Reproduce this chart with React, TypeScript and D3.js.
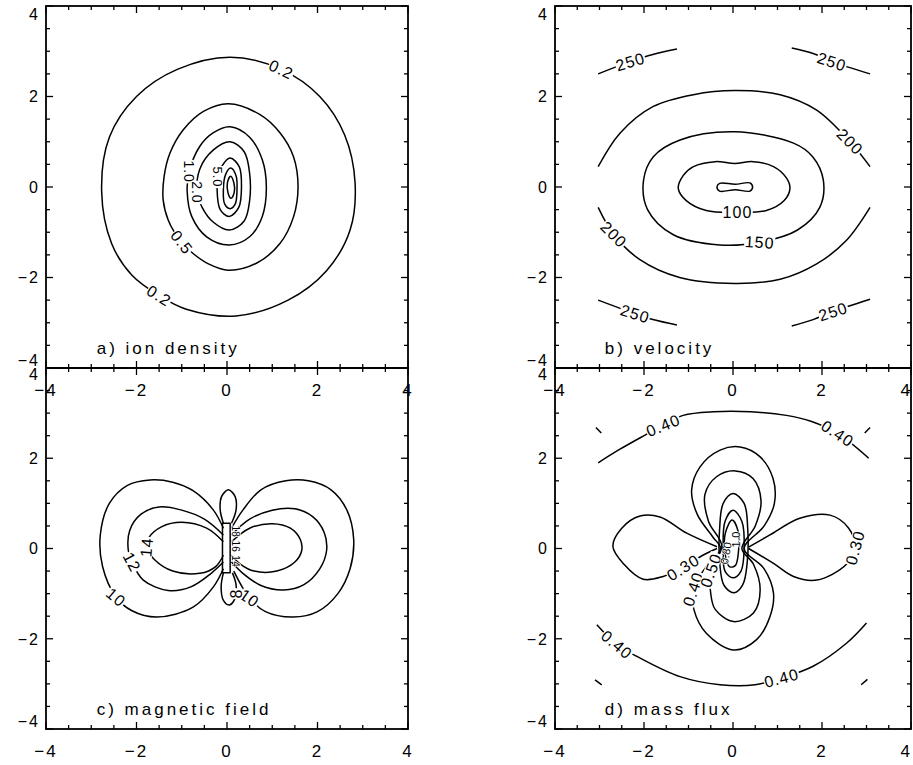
import React from 'react';
import * as d3 from 'd3';

type Pt = [number, number];
type Curve = { pts: Pt[]; closed: boolean; linear?: boolean };
type Lbl = { text: string; x: number; y: number; angle: number; size?: number };

// ---------- axes ----------
const MAJOR_TICKS = [-4, -2, 0, 2, 4];
const MINOR_TICKS = [-3.5, -3, -2.5, -1.5, -1, -0.5, 0.5, 1, 1.5, 2.5, 3, 3.5];
const TICK_LABELS = ['\u22124', '\u22122', '0', '2', '4'];

// ---------- a) ion density ----------
const density02: Pt[] = [[0.07, 2.87], [1.2, 2.6], [2.05, 2.0], [2.6, 1.15], [2.83, 0.1], [2.72, -0.95], [2.2, -1.85], [1.35, -2.5], [0.2, -2.85], [-0.9, -2.7], [-1.5, -2.4], [-2.1, -1.95], [-2.55, -1.25], [-2.77, -0.1], [-2.6, 1.1], [-2.0, 2.0], [-1.1, 2.6]];
const density05: Pt[] = [[0.03, 1.84], [0.73, 1.6], [1.17, 1.2], [1.47, 0.67], [1.57, 0], [1.47, -0.66], [1.17, -1.25], [0.66, -1.68], [0.03, -1.84], [-0.41, -1.7], [-0.75, -1.47], [-1.0, -1.22], [-1.15, -1.02], [-1.3, -0.73], [-1.41, -0.29], [-1.39, 0.23], [-1.26, 0.75], [-0.97, 1.26], [-0.52, 1.67]];
const density10: Pt[] = [[0.07, 1.33], [0.5, 1.1], [0.78, 0.6], [0.87, 0.0], [0.78, -0.65], [0.5, -1.1], [0.05, -1.28], [-0.45, -1.1], [-0.78, -0.65], [-0.88, -0.1], [-0.84, 0.32], [-0.6, 0.9], [-0.3, 1.2]];
const density20: Pt[] = [[0.07, 1.0], [0.38, 0.78], [0.5, 0.3], [0.5, -0.3], [0.38, -0.75], [0.05, -0.95], [-0.3, -0.78], [-0.55, -0.45], [-0.66, -0.1], [-0.6, 0.4], [-0.3, 0.82]];
const density50: Pt[] = [[0.07, 0.64], [0.27, 0.45], [0.32, 0.0], [0.26, -0.45], [0.05, -0.65], [-0.15, -0.5], [-0.22, 0.0], [-0.2, 0.22], [-0.12, 0.45]];
const density100: Pt[] = [[0.08, 0.42], [0.2, 0.25], [0.22, -0.1], [0.18, -0.38], [0.07, -0.48], [-0.05, -0.38], [-0.08, -0.05], [-0.03, 0.28]];
const density200: Pt[] = [[0.08, 0.24], [0.15, 0.1], [0.16, -0.12], [0.09, -0.25], [0.02, -0.12], [0.01, 0.1]];
const densityLabels: Lbl[] = [
  { text: '0.2', x: 1.2, y: 2.6, angle: 25 },
  { text: '0.2', x: -1.5, y: -2.4, angle: 32 },
  { text: '0.5', x: -1.0, y: -1.22, angle: 52 },
  { text: '1.0', x: -0.84, y: 0.34, angle: 90, size: 14 },
  { text: '2.0', x: -0.66, y: -0.12, angle: 90, size: 14 },
  { text: '5.0', x: -0.2, y: 0.22, angle: 90, size: 13 },
];

// ---------- b) velocity ----------
const vel250UL: Pt[] = [[-3.03, 2.5], [-2.31, 2.77], [-1.8, 2.93], [-1.26, 3.05]];
const vel250UR: Pt[] = [[1.32, 3.07], [1.8, 2.95], [2.22, 2.77], [3.08, 2.5]];
const vel250LL: Pt[] = [[-3.03, -2.5], [-2.2, -2.8], [-1.8, -2.93], [-1.26, -3.05]];
const vel250LR: Pt[] = [[1.32, -3.07], [1.8, -2.93], [2.25, -2.75], [3.08, -2.48]];
const vel200Up: Pt[] = [[-3.03, 0.45], [-2.54, 1.19], [-1.79, 1.78], [-0.89, 2.04], [0.04, 2.13], [1.06, 2.04], [1.88, 1.7], [2.63, 1.0], [3.08, 0.45]];
const vel200Lo: Pt[] = [[-3.03, -0.45], [-2.68, -1.05], [-2.1, -1.6], [-1.2, -2.0], [0.04, -2.13], [1.06, -2.04], [1.88, -1.7], [2.54, -1.19], [3.08, -0.45]];
const vel150: Pt[] = [[0.04, 1.22], [1.36, 0.97], [1.79, 0.67], [2.03, 0.15], [1.95, -0.45], [1.45, -0.95], [0.6, -1.22], [-0.3, -1.28], [-1.35, -1.05], [-1.92, -0.5], [-2.01, 0.15], [-1.79, 0.67], [-1.19, 1.04]];
const vel100: Pt[] = [[0.04, 0.52], [0.45, 0.56], [0.91, 0.45], [1.2, 0.2], [1.28, -0.03], [1.15, -0.3], [0.75, -0.52], [0.1, -0.56], [-0.6, -0.52], [-1.05, -0.3], [-1.23, -0.03], [-1.12, 0.25], [-0.89, 0.45], [-0.4, 0.56]];
const vel50: Pt[] = [[-0.3, 0.08], [0.05, 0.06], [0.38, 0.09], [0.44, 0.0], [0.38, -0.09], [0.05, -0.06], [-0.3, -0.09], [-0.36, 0.0]];
const velLabels: Lbl[] = [
  { text: '250', x: -2.31, y: 2.77, angle: -17 },
  { text: '250', x: 2.22, y: 2.77, angle: 18 },
  { text: '250', x: -2.2, y: -2.8, angle: 17 },
  { text: '250', x: 2.25, y: -2.75, angle: -18 },
  { text: '200', x: 2.63, y: 1.0, angle: 45 },
  { text: '200', x: -2.68, y: -1.05, angle: 45 },
  { text: '150', x: 0.6, y: -1.22, angle: 4 },
  { text: '100', x: 0.1, y: -0.56, angle: 0 },
];

// ---------- c) magnetic field ----------
const mag10L: Pt[] = [[-0.08, 0.45], [-0.3, 0.85], [-0.75, 1.28], [-1.2, 1.47], [-1.7, 1.52], [-2.2, 1.4], [-2.6, 1.0], [-2.8, 0.3], [-2.75, -0.4], [-2.45, -1.08], [-2.1, -1.38], [-1.55, -1.52], [-0.75, -1.3], [-0.3, -0.85], [-0.08, -0.45]];
const mag12L: Pt[] = [[-0.08, 0.3], [-0.5, 0.65], [-1.0, 0.85], [-1.5, 0.92], [-1.9, 0.76], [-2.15, 0.4], [-2.18, -0.05], [-2.1, -0.3], [-1.85, -0.7], [-1.3, -0.93], [-0.8, -0.85], [-0.35, -0.55], [-0.08, -0.3]];
const mag14L: Pt[] = [[-0.08, 0.15], [-0.45, 0.45], [-1.0, 0.58], [-1.45, 0.48], [-1.72, 0.25], [-1.78, 0.03], [-1.6, -0.25], [-1.2, -0.5], [-0.6, -0.55], [-0.25, -0.4], [-0.08, -0.15]];
const mag10R: Pt[] = [[0.1, 0.45], [0.35, 0.85], [0.75, 1.3], [1.3, 1.5], [1.8, 1.5], [2.3, 1.3], [2.65, 0.85], [2.8, 0.2], [2.72, -0.45], [2.45, -1.0], [2.0, -1.4], [1.46, -1.52], [0.85, -1.4], [0.5, -1.1], [0.15, -0.5]];
const mag12R: Pt[] = [[0.1, 0.3], [0.5, 0.65], [1.0, 0.85], [1.5, 0.88], [1.9, 0.7], [2.15, 0.35], [2.2, -0.05], [2.05, -0.45], [1.7, -0.8], [1.25, -0.92], [0.75, -0.82], [0.35, -0.55], [0.1, -0.3]];
const mag14R: Pt[] = [[0.1, 0.15], [0.5, 0.45], [1.0, 0.55], [1.4, 0.45], [1.62, 0.2], [1.65, -0.05], [1.5, -0.3], [1.1, -0.5], [0.6, -0.5], [0.3, -0.35], [0.1, -0.15]];
const mag8Top: Pt[] = [[-0.08, 0.56], [-0.15, 0.85], [-0.12, 1.15], [0.03, 1.3], [0.18, 1.15], [0.2, 0.85], [0.1, 0.56]];
const mag8Bot: Pt[] = [[-0.08, -0.54], [-0.13, -0.85], [-0.08, -1.15], [0.05, -1.25], [0.18, -1.1], [0.2, -0.8], [0.12, -0.54]];
const magCore: Pt[] = [[-0.1, 0.56], [0.07, 0.56], [0.07, -0.54], [-0.1, -0.54]];
const magLabels: Lbl[] = [
  { text: '10', x: -2.45, y: -1.08, angle: 40 },
  { text: '12', x: -2.1, y: -0.3, angle: 62 },
  { text: '14', x: -1.78, y: 0.03, angle: -85 },
  { text: '10', x: 0.5, y: -1.1, angle: 35 },
  { text: '8', x: 0.2, y: -1.0, angle: -90 },
  { text: '18', x: 0.2, y: 0.38, angle: 90, size: 10 },
  { text: '16', x: 0.2, y: 0.05, angle: 90, size: 10 },
  { text: '14', x: 0.2, y: -0.28, angle: 90, size: 10 },
];

// ---------- d) mass flux ----------
const flux40Bottom: Pt[] = [[-3.06, -1.69], [-2.61, -2.13], [-2.16, -2.39], [-1.19, -2.84], [-0.29, -3.02], [0.5, -3.02], [1.09, -2.87], [1.8, -2.61], [2.55, -2.1], [3.0, -1.65]];
const flux40Top: Pt[] = [[-3.03, 1.9], [-2.54, 2.2], [-2.0, 2.5], [-1.57, 2.73], [-1.12, 2.95], [-0.44, 3.03], [0.4, 3.03], [1.2, 2.95], [1.75, 2.82], [2.35, 2.55], [3.05, 2.0]];
const flux40CornerBL: Pt[] = [[-3.1, -2.91], [-2.95, -3.02]];
const flux40CornerBR: Pt[] = [[2.88, -3.02], [3.02, -2.9]];
const flux40CornerTL: Pt[] = [[-3.08, 2.68], [-2.96, 2.56]];
const flux40CornerTR: Pt[] = [[2.96, 2.56], [3.08, 2.68]];
const flux30L: Pt[] = [[-0.36, 0.04], [-1.04, 0.34], [-1.64, 0.7], [-2.09, 0.72], [-2.5, 0.45], [-2.7, 0.05], [-2.45, -0.35], [-2.02, -0.68], [-1.57, -0.62], [-1.12, -0.42], [-0.7, -0.16], [-0.36, 0.0]];
const flux30R: Pt[] = [[0.35, 0.03], [0.83, 0.3], [1.5, 0.67], [2.18, 0.74], [2.6, 0.45], [2.74, 0.02], [2.55, -0.35], [1.88, -0.7], [1.36, -0.62], [0.91, -0.33], [0.35, 0.0]];
const flux40Petal: Pt[] = [[0.25, 0.0], [0.7, 0.5], [0.93, 1.0], [0.9, 1.55], [0.61, 2.03], [0.16, 2.25], [-0.29, 2.18], [-0.74, 1.81], [-0.93, 1.29], [-0.8, 0.75], [-0.45, 0.25], [-0.28, 0.0], [-0.6, -0.4], [-0.9, -0.9], [-0.88, -1.35], [-0.6, -1.88], [0.01, -2.25], [0.53, -2.02], [0.83, -1.51], [0.91, -0.99], [0.7, -0.45]];
const flux50Petal: Pt[] = [[0.2, 0.0], [0.5, 0.5], [0.63, 1.05], [0.45, 1.55], [0.05, 1.72], [-0.37, 1.59], [-0.63, 1.2], [-0.55, 0.6], [-0.25, 0.05], [-0.5, -0.48], [-0.5, -1.0], [-0.4, -1.35], [0.01, -1.62], [0.46, -1.43], [0.61, -0.92], [0.46, -0.35]];
const flux60: Pt[] = [[0.0, 1.22], [0.25, 1.0], [0.33, 0.45], [0.32, -0.3], [0.22, -0.8], [0.02, -0.98], [-0.2, -0.82], [-0.3, -0.3], [-0.3, 0.45], [-0.22, 1.0]];
const flux80: Pt[] = [[0.0, 0.85], [0.2, 0.6], [0.25, 0.0], [0.18, -0.5], [0.0, -0.65], [-0.18, -0.5], [-0.22, 0.0], [-0.18, 0.6]];
const flux100: Pt[] = [[-0.02, 0.63], [0.11, 0.4], [0.12, -0.1], [0.05, -0.38], [-0.08, -0.4], [-0.18, -0.1], [-0.17, 0.35]];
const fluxLabels: Lbl[] = [
  { text: '0.40', x: -2.61, y: -2.13, angle: 40 },
  { text: '0.40', x: 1.09, y: -2.87, angle: -15 },
  { text: '0.40', x: -1.57, y: 2.73, angle: -22 },
  { text: '0.40', x: 2.35, y: 2.55, angle: 33 },
  { text: '0.30', x: -1.12, y: -0.42, angle: -32 },
  { text: '0.30', x: 2.74, y: 0.02, angle: -75 },
  { text: '0.40', x: -0.9, y: -0.9, angle: -72 },
  { text: '0.50', x: -0.5, y: -0.48, angle: -70 },
  { text: '0.80', x: -0.16, y: -0.1, angle: -80, size: 11 },
  { text: '1.0', x: 0.06, y: 0.2, angle: -90, size: 11 },
];

const open = (pts: Pt[]): Curve => ({ pts, closed: false });
const loop = (pts: Pt[]): Curve => ({ pts, closed: true });

const panels = [
  {
    key: 'a', left: 46, right: 408, top: 6, bottom: 368, title: 'a) ion density', bottomRow: false, rightCol: false,
    curves: [loop(density02), loop(density05), loop(density10), loop(density20), loop(density50), loop(density100), loop(density200)],
    labels: densityLabels,
  },
  {
    key: 'b', left: 555, right: 911, top: 6, bottom: 368, title: 'b) velocity', bottomRow: false, rightCol: true,
    curves: [open(vel250UL), open(vel250UR), open(vel250LL), open(vel250LR), open(vel200Up), open(vel200Lo), loop(vel150), loop(vel100), loop(vel50)],
    labels: velLabels,
  },
  {
    key: 'c', left: 46, right: 408, top: 368, bottom: 729, title: 'c) magnetic field', bottomRow: true, rightCol: false,
    curves: [open(mag10L), open(mag12L), open(mag14L), open(mag10R), open(mag12R), open(mag14R), open(mag8Top), open(mag8Bot), { pts: magCore, closed: true, linear: true }],
    labels: magLabels,
  },
  {
    key: 'd', left: 555, right: 911, top: 368, bottom: 729, title: 'd) mass flux', bottomRow: true, rightCol: true,
    curves: [open(flux40Bottom), open(flux40Top), open(flux40CornerBL), open(flux40CornerBR), open(flux40CornerTL), open(flux40CornerTR), open(flux30L), open(flux30R), loop(flux40Petal), loop(flux50Petal), loop(flux60), loop(flux80), loop(flux100)],
    labels: fluxLabels,
  },
];

const FONT = "'Liberation Sans', Arial, Helvetica, sans-serif";

const charW = (c: string) => (c === '.' ? 0.278 : 0.556);

function Panel({ p }: { p: typeof panels[number] }) {
  const x = d3.scaleLinear().domain([-4, 4]).range([p.left, p.right]);
  const y = d3.scaleLinear().domain([-4, 4]).range([p.bottom, p.top]);
  const paths = p.curves.map((c) => {
    const gen = d3
      .line<Pt>()
      .x((d) => x(d[0]))
      .y((d) => y(d[1]))
      .curve(c.linear ? d3.curveLinearClosed : c.closed ? d3.curveCatmullRomClosed.alpha(0.5) : d3.curveCatmullRom.alpha(0.5));
    return gen(c.pts) || '';
  });
  const majLen = 7;
  const minLen = 4;
  const ticks: JSX.Element[] = [];
  const addTicks = (vals: number[], len: number, cls: string) => {
    vals.forEach((v, i) => {
      ticks.push(<line key={`${cls}b${i}`} x1={x(v)} x2={x(v)} y1={p.bottom} y2={p.bottom - len} />);
      ticks.push(<line key={`${cls}t${i}`} x1={x(v)} x2={x(v)} y1={p.top} y2={p.top + len} />);
      ticks.push(<line key={`${cls}l${i}`} x1={p.left} x2={p.left + len} y1={y(v)} y2={y(v)} />);
      ticks.push(<line key={`${cls}r${i}`} x1={p.right} x2={p.right - len} y1={y(v)} y2={y(v)} />);
    });
  };
  addTicks(MAJOR_TICKS, majLen, 'M');
  addTicks(MINOR_TICKS, minLen, 'm');

  return (
    <g>
      <g stroke="#000" strokeWidth={1.3}>{ticks}</g>
      <rect x={p.left} y={p.top} width={p.right - p.left} height={p.bottom - p.top} fill="none" stroke="#000" strokeWidth={1.8} />
      <g fill="none" stroke="#000" strokeWidth={1.5} strokeLinejoin="round">
        {paths.map((d, i) => (
          <path key={i} d={d} />
        ))}
      </g>
      <g fontFamily={FONT} fill="#000">
        {p.labels.map((l, i) => {
          const fs = l.size ?? 16;
          const big = fs > 12;
          const ls = big ? 1 : 0.3;
          const w = l.text.split('').reduce((s, c) => s + charW(c) * fs, 0) + ls * (l.text.length - 1) + 2;
          const h = fs * 0.78;
          return (
            <g key={i} transform={`translate(${x(l.x)},${y(l.y)}) rotate(${l.angle})`}>
              {big && <rect x={-w / 2} y={-h / 2} width={w} height={h} fill="#fff" />}
              <text
                textAnchor="middle"
                dy="0.36em"
                fontSize={fs}
                letterSpacing={ls}
                stroke={big ? 'none' : '#fff'}
                strokeWidth={big ? 0 : 1.6}
                paintOrder="stroke"
                strokeLinejoin="round"
              >
                {l.text}
              </text>
            </g>
          );
        })}
      </g>
      <text x={x(-2.88)} y={y(-3.68)} fontFamily={FONT} fontSize={17} letterSpacing={3}>
        {p.title}
      </text>
      <g fontFamily={FONT} fontSize={17} fill="#000">
        {MAJOR_TICKS.map((v, i) => {
          const isRightEdge = p.rightCol && v === 4;
          return (
            <text
              key={`xl${i}`}
              x={isRightEdge ? x(v) + 1 : x(v)}
              y={p.bottom + 28}
              textAnchor={isRightEdge ? 'end' : 'middle'}
              letterSpacing={2}
            >
              {TICK_LABELS[i]}
            </text>
          );
        })}
        {MAJOR_TICKS.map((v, i) => {
          let cy = y(v);
          if (v === 4) cy += p.bottomRow ? 6 : 8;
          if (v === -4) cy -= p.bottomRow ? 8 : 8;
          return (
            <text key={`yl${i}`} x={p.left - 6} y={cy} dy="0.36em" textAnchor="end" letterSpacing={2} fontSize={16}>
              {TICK_LABELS[i]}
            </text>
          );
        })}
      </g>
    </g>
  );
}

export default function App() {
  return (
    <svg
      width={913}
      height={765}
      viewBox="0 0 913 765"
      style={{ position: 'absolute', left: 0, top: 0, background: '#fff' }}
    >
      <rect x={0} y={0} width={913} height={765} fill="#fff" />
      {panels.map((p) => (
        <Panel key={p.key} p={p} />
      ))}
    </svg>
  );
}
